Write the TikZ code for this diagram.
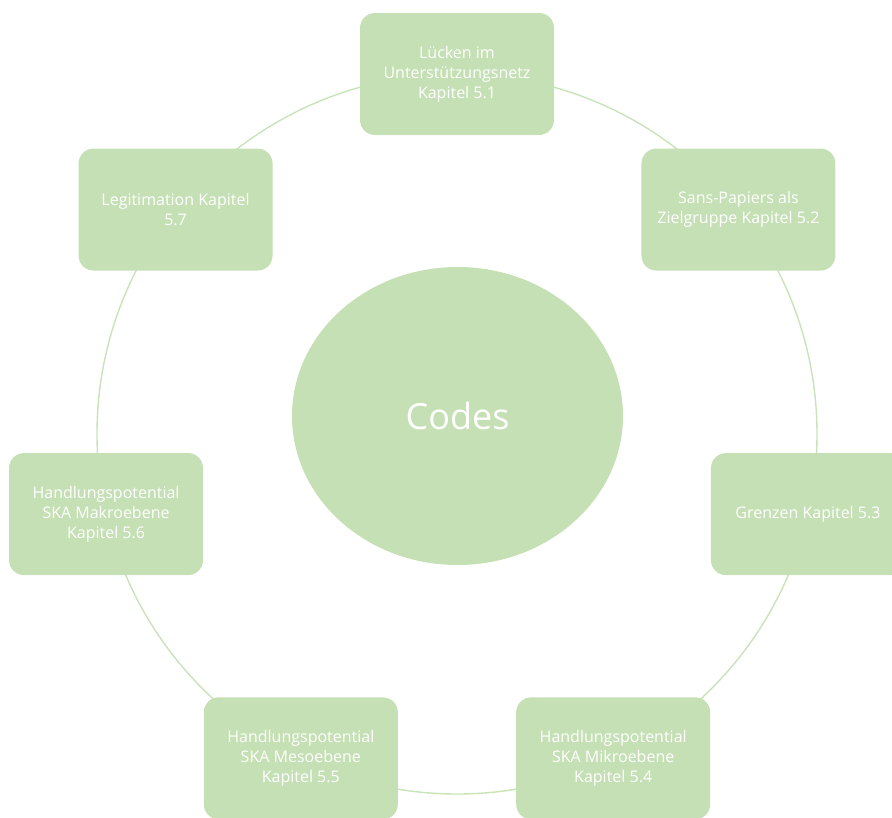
\documentclass[tikz,border=0pt]{standalone}
\usepackage{fontspec}
\setmainfont{Open Sans}
\usetikzlibrary{shapes.geometric}
\definecolor{boxgreen}{HTML}{C5E0B4}
\definecolor{ringgreen}{HTML}{C9E3B9}
\tikzset{
  codebox/.style={draw=none, fill=boxgreen, rounded corners=15pt, minimum width=194pt, minimum height=122pt, inner sep=0pt, align=center, text=white, font=\fontsize{16}{20}\selectfont},
  hub/.style={ellipse, draw=none, fill=boxgreen, minimum width=331pt, minimum height=298pt, inner sep=0pt, text=white, font=\fontsize{36}{40}\selectfont},
  ring/.style={draw=ringgreen, line width=1.4pt}
}
\begin{document}
\begin{tikzpicture}[x=1pt,y=1pt]
\useasboundingbox (0,0) rectangle (892,-817);
\clip (0,0) rectangle (892,-817);
\coordinate (ringc) at (457,-434);
\draw[ring] (ringc) circle (360);
\node[hub] (codes) at (457.5,-416) {Codes};
\node[codebox] (b1) at ([shift={(457,-434)}]90:360) {Lücken im\\Unterstützungsnetz\\Kapitel 5.1};
\node[codebox] (b2) at ([shift={(457,-434)}]38.571:360) {Sans-Papiers als\\Zielgruppe Kapitel 5.2};
\node[codebox] (b3) at ([shift={(457,-434)}]-12.857:360) {Grenzen Kapitel 5.3};
\node[codebox] (b4) at ([shift={(457,-434)}]-64.286:360) {Handlungspotential\\SKA Mikroebene\\Kapitel 5.4};
\node[codebox] (b5) at ([shift={(457,-434)}]-115.714:360) {Handlungspotential\\SKA Mesoebene\\Kapitel 5.5};
\node[codebox] (b6) at ([shift={(457,-434)}]-167.143:360) {Handlungspotential\\SKA Makroebene\\Kapitel 5.6};
\node[codebox] (b7) at ([shift={(457,-434)}]141.429:360) {Legitimation Kapitel\\5.7};
\end{tikzpicture}
\end{document}
